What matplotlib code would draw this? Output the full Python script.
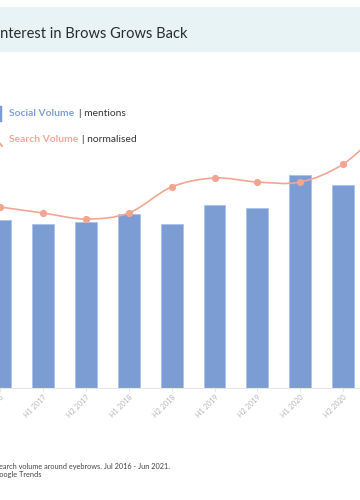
import matplotlib.pyplot as plt
from matplotlib.path import Path
from matplotlib.patches import PathPatch
from matplotlib.lines import Line2D

plt.rcParams['font.family'] = ['Lato', 'DejaVu Sans']

periods = ['H2 2016', 'H1 2017', 'H2 2017', 'H1 2018', 'H2 2018',
           'H1 2019', 'H2 2019', 'H1 2020', 'H2 2020', 'H1 2021']
social_volume = [168, 164, 166, 174, 164, 183, 180, 213, 203, 196]
search_volume = [181, 175, 169, 175, 201, 210, 206, 206, 224, 262]

bar_color = '#7b9dd3'
line_color = '#f3a592'

fig = plt.figure(figsize=(3.6, 5), dpi=100)
W, H = 360, 500


def fx(px):
    return px / W


def fy(py):
    return 1 - py / H


# header band
fig.patches.append(plt.Rectangle((0, fy(52)), 1, (52 - 7) / H, transform=fig.transFigure,
                                 facecolor='#e7f3f5', edgecolor='none', zorder=0))
fig.text(fx(-4), fy(34), 'Interest in Brows Grows Back', fontsize=10.5,
         color='#2b2b2b', va='center', ha='left')

# legend
fig.add_artist(Line2D([fx(0), fx(0)], [fy(107), fy(120)], transform=fig.transFigure,
                      color=bar_color, lw=2.5))
fig.text(fx(9), fy(113.5), 'Social Volume', fontsize=7.4, color='#7f9fd4',
         fontweight='bold', va='center')
fig.text(fx(79), fy(113.5), '| mentions', fontsize=7.4, color='#333333', va='center')
fig.add_artist(Line2D([fx(-3), fx(2)], [fy(140), fy(146)], transform=fig.transFigure,
                      color=line_color, lw=1.3))
fig.text(fx(9), fy(139.5), 'Search Volume', fontsize=7.4, color='#eea898',
         fontweight='bold', va='center')
fig.text(fx(82), fy(140), '| normalised', fontsize=7.4, color='#333333', va='center')

# main axes
ax = fig.add_axes([0, fy(388), 1, (388 - 60) / H])
x = list(range(len(periods)))
ax.bar(x, social_volume, width=0.51, color=bar_color, edgecolor='#a9c1ea',
       linewidth=0.6, zorder=2)

# smooth line through the search points (cardinal spline)
verts = [(x[0], search_volume[0])]
codes = [Path.MOVETO]
k = 1 / 6
for i in range(len(x) - 1):
    p0 = (x[max(i - 1, 0)], search_volume[max(i - 1, 0)])
    p1 = (x[i], search_volume[i])
    p2 = (x[i + 1], search_volume[i + 1])
    p3 = (x[min(i + 2, len(x) - 1)], search_volume[min(i + 2, len(x) - 1)])
    c1 = (p1[0] + (p2[0] - p0[0]) * k, p1[1] + (p2[1] - p0[1]) * k)
    c2 = (p2[0] - (p3[0] - p1[0]) * k, p2[1] - (p3[1] - p1[1]) * k)
    verts += [c1, c2, p2]
    codes += [Path.CURVE4] * 3
ax.add_patch(PathPatch(Path(verts, codes), facecolor='none', edgecolor=line_color,
                       lw=1.2, zorder=3))
ax.plot(x, search_volume, 'o', color=line_color, markersize=4.2, zorder=4)

ax.set_xticks(x)
ax.set_xticklabels(periods, rotation=45, ha='right', rotation_mode='anchor',
                   fontsize=5.2, color='#b5b5b5')
ax.set_xlim(0, W / 42.9)
ax.set_ylim(0, 328)
ax.tick_params(axis='x', length=2, color='#e3e3e3', pad=2)
ax.set_yticks([])
for s in ['top', 'right', 'left']:
    ax.spines[s].set_visible(False)
ax.spines['bottom'].set_color('#e6e6e6')
ax.spines['bottom'].set_linewidth(0.8)

# footnote
fig.text(fx(-5), fy(466), 'Search volume around eyebrows. Jul 2016 - Jun 2021.',
         fontsize=5.3, color='#444444', va='center')
fig.text(fx(-6), fy(475), 'Google Trends', fontsize=5.3, color='#444444', va='center')

fig.savefig('out.png', dpi=100)
